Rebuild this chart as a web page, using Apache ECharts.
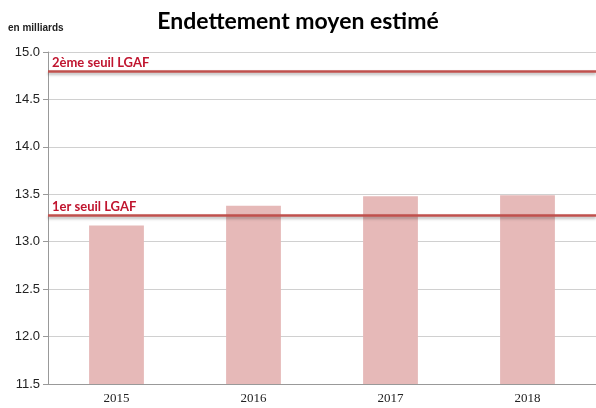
<!DOCTYPE html>
<html>
<head>
<meta charset="utf-8">
<script src="https://cdn.jsdelivr.net/npm/echarts@6/dist/echarts.min.js"></script>
<style>
    html, body { margin: 0; padding: 0; background: #fff; }
    #chart { width: 596px; height: 408px; }
</style>
</head>
<body>
<div id="chart"></div>
<script>
var years = ['2015', '2016', '2017', '2018'];
var debt = [13.17, 13.38, 13.48, 13.49];
var thresholds = [
    { name: '2ème seuil LGAF', value: 14.8 },
    { name: '1er seuil LGAF', value: 13.28 }
];

var myChart = echarts.init(document.getElementById('chart'));
var option = {
    backgroundColor: '#fff',
    animation: false,
    title: {
        text: 'Endettement moyen estimé',
        left: 'center',
        top: 5,
        textStyle: {
            fontFamily: 'Lato',
            fontWeight: 'bold',
            fontSize: 23,
            color: '#000'
        }
    },
    graphic: [{
        type: 'text',
        left: 8,
        top: 23,
        style: {
            text: 'en milliards',
            font: 'bold 10px "Liberation Sans"',
            fill: '#222'
        }
    }],
    grid: {
        left: 48,
        right: -4,
        top: 52,
        bottom: 24
    },
    xAxis: {
        type: 'category',
        data: years,
        axisLine: { lineStyle: { color: '#999' } },
        axisTick: { lineStyle: { color: '#999' }, length: 5 },
        axisLabel: {
            color: '#222',
            fontFamily: 'Liberation Serif',
            fontSize: 13,
            margin: 8
        }
    },
    yAxis: {
        type: 'value',
        min: 11.5,
        max: 15,
        interval: 0.5,
        axisLine: { show: true, lineStyle: { color: '#999' } },
        axisTick: { show: true, inside: false, length: 5, lineStyle: { color: '#999' } },
        splitLine: { lineStyle: { color: '#d0d0d0' } },
        axisLabel: {
            color: '#222',
            fontFamily: 'Liberation Sans',
            fontSize: 13,
            margin: 8,
            formatter: function (v) { return v.toFixed(1); }
        }
    },
    series: [{
        type: 'bar',
        data: debt,
        barWidth: '40%',
        itemStyle: { color: '#E6B9B8' },
        markLine: {
            silent: true,
            symbol: 'none',
            lineStyle: {
                type: 'solid',
                color: '#C0504D',
                width: 2.5,
                shadowColor: 'rgba(0,0,0,0.3)',
                shadowBlur: 3,
                shadowOffsetY: 2
            },
            label: {
                position: 'insideStartTop',
                formatter: '{b}',
                color: '#C0152F',
                fontFamily: 'Lato',
                fontWeight: 'bold',
                fontSize: 13,
                distance: [4, 2]
            },
            data: thresholds.map(function (t) {
                return { name: t.name, yAxis: t.value };
            })
        }
    }]
};
myChart.setOption(option);
</script>
</body>
</html>
